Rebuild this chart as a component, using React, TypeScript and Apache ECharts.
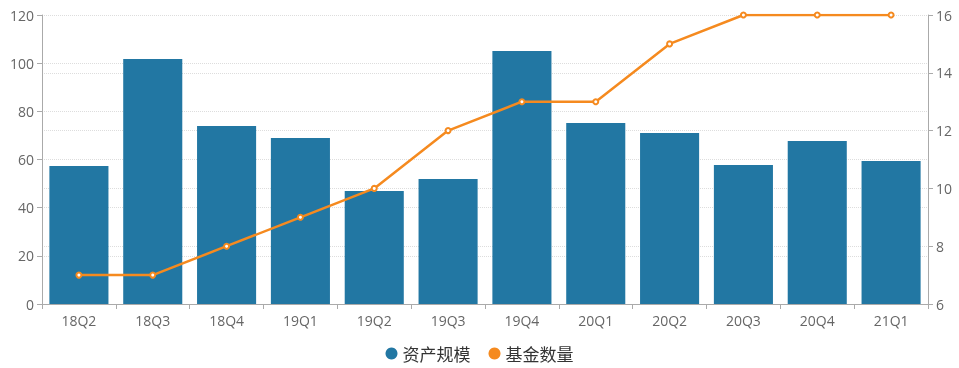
import React, { useEffect, useRef } from "react";
import * as echarts from "echarts";

const categories = ["18Q2", "18Q3", "18Q4", "19Q1", "19Q2", "19Q3", "19Q4", "20Q1", "20Q2", "20Q3", "20Q4", "21Q1"];
const assetScale = [57.3, 101.7, 73.9, 68.9, 46.9, 51.9, 105.1, 75.2, 71.0, 57.7, 67.7, 59.4];
const fundCount = [7, 7, 8, 9, 10, 12, 13, 13, 15, 16, 16, 16];
const seriesNames = ["资产规模", "基金数量"];

const FONT = "'Open Sans', 'Noto Sans CJK SC', sans-serif";

export default function App() {
  const ref = useRef<HTMLDivElement>(null);
  useEffect(() => {
    if (!ref.current) return;
    const chart = echarts.init(ref.current, null, { renderer: "svg" });
    const axisLine = { show: true, lineStyle: { color: "#aaa" } };
    const splitLine = { show: true, lineStyle: { color: "#ddd", type: "dotted" as const } };
    chart.setOption({
      animation: false,
      textStyle: { fontFamily: FONT },
      legend: {
        bottom: 1,
        left: "center",
        icon: "circle",
        itemWidth: 12,
        itemHeight: 12,
        itemGap: 18,
        textStyle: { fontSize: 17, color: "#333", fontFamily: "'Noto Sans CJK SC', sans-serif" },
        data: seriesNames,
      },
      grid: { left: 42, right: 31, top: 15, bottom: 64, outerBoundsMode: "none" },
      xAxis: {
        type: "category",
        data: categories,
        axisLine,
        axisTick: { show: true, lineStyle: { color: "#aaa" } },
        axisLabel: { color: "#666", fontSize: 14, margin: 9 },
      },
      yAxis: [
        {
          type: "value",
          min: 0,
          max: 120,
          interval: 20,
          axisLine,
          axisTick: { show: true, lineStyle: { color: "#aaa" } },
          axisLabel: { color: "#666", fontSize: 14 },
          splitLine,
        },
        {
          type: "value",
          min: 6,
          max: 16,
          interval: 2,
          position: "right",
          axisLine,
          axisTick: { show: true, lineStyle: { color: "#aaa" } },
          axisLabel: { color: "#666", fontSize: 14 },
          splitLine,
        },
      ],
      series: [
        {
          name: seriesNames[0],
          type: "bar",
          data: assetScale,
          barCategoryGap: "20%",
          itemStyle: { color: "#2277a3" },
        },
        {
          name: seriesNames[1],
          type: "line",
          yAxisIndex: 1,
          data: fundCount,
          symbol: "emptyCircle",
          symbolSize: 5,
          itemStyle: { color: "#f58a1f" },
          lineStyle: { color: "#f58a1f", width: 2.5 },
        },
      ],
    });
    return () => chart.dispose();
  }, []);
  return <div ref={ref} style={{ position: "fixed", left: 0, top: 0, width: 959, height: 368 }} />;
}
